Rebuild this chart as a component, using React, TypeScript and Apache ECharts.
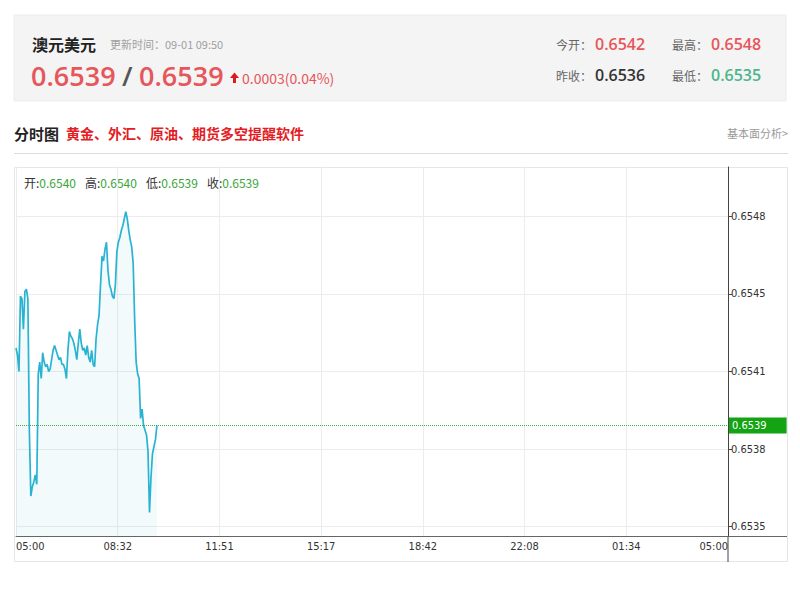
import React, { useEffect, useRef } from 'react';
import * as echarts from 'echarts';

// Quote header
const symbolName = '澳元美元';
const updateTime = '更新时间：09-01 09:50';
const bidPrice = '0.6539';
const askPrice = '0.6539';
const changeText = '0.0003(0.04%)';
const openToday = '0.6542';
const highToday = '0.6548';
const prevClose = '0.6536';
const lowToday = '0.6535';

// Intraday panel
const ohlcLabels = ['开:', '高:', '低:', '收:'];
const ohlcValues = ['0.6540', '0.6540', '0.6539', '0.6539'];
const timeLabels = ['05:00', '08:32', '11:51', '15:17', '18:42', '22:08', '01:34', '05:00'];
const priceTicks = [0.65347, 0.6538, 0.65413, 0.65446, 0.65479];
const lastPrice = 0.6539;
const stepMinutes = 3;
const dayMinutes = 1440;
const prices = [
  0.65423, 0.6542, 0.65413, 0.65445, 0.65444, 0.65431, 0.65447, 0.65448, 0.65444, 0.65388,
  0.6536, 0.65364, 0.65366, 0.65369, 0.65365, 0.65412, 0.65417, 0.6541, 0.65421, 0.65417,
  0.65415, 0.65416, 0.65413, 0.65414, 0.65418, 0.65422, 0.65424, 0.65422, 0.6542, 0.65418,
  0.65419, 0.65416, 0.65416, 0.65414, 0.6541, 0.65422, 0.6543, 0.65428, 0.65427, 0.65425,
  0.65422, 0.65418, 0.65425, 0.65431, 0.65425, 0.65422, 0.65423, 0.6542, 0.65424, 0.65419,
  0.65417, 0.65422, 0.65416, 0.65415, 0.65427, 0.65433, 0.65437, 0.6545, 0.65462, 0.6546,
  0.65465, 0.65468, 0.65456, 0.6545, 0.65448, 0.65445, 0.65444, 0.6545, 0.65464, 0.65468,
  0.6547, 0.65473, 0.65475, 0.65478, 0.65481, 0.65478, 0.65473, 0.65469, 0.65466, 0.65459,
  0.65435, 0.65417, 0.65412, 0.6541, 0.65393, 0.65397, 0.6539, 0.65388, 0.65386, 0.65379,
  0.65353, 0.65368, 0.65378, 0.65381, 0.65384, 0.6539,
];

const FONT = '"Noto Sans CJK SC", "Noto Sans", sans-serif';
const AXIS_FONT = '"DejaVu Sans Condensed", "Liberation Sans", sans-serif';
const RED = '#e6565b';
const GREEN_TXT = '#3aa53a';

const slot = dayMinutes / (timeLabels.length - 1);
const timeTickValues = timeLabels.map((_, i) => i * slot);

function txt(x: number, y: number, text: string, fill: string, font: string, align = 'left') {
  return {
    type: 'text',
    x,
    y,
    silent: true,
    style: { text, fill, font, textAlign: align, textVerticalAlign: 'middle' },
  };
}

function buildOption() {
  const ohlcRich = ohlcLabels
    .map((l, i) => `{l|${l}}{v|${ohlcValues[i]}}`)
    .join('{s| }');

  return {
    animation: false,
    grid: { left: 16, right: 72, top: 167, bottom: 53, containLabel: false },
    xAxis: {
      type: 'value',
      min: 0,
      max: dayMinutes,
      axisLine: { show: true, onZero: false, lineStyle: { color: '#666', width: 1 } },
      axisTick: { show: false, customValues: timeTickValues },
      splitLine: { show: true, lineStyle: { color: '#ececec', width: 1 } },
      axisLabel: {
        customValues: timeTickValues,
        formatter: (v: number) => timeLabels[Math.round(v / slot)],
        color: '#333',
        fontSize: 11,
        fontFamily: AXIS_FONT,
        margin: 5,
        alignMinLabel: 'left',
        alignMaxLabel: 'right',
      },
    },
    yAxis: {
      type: 'value',
      position: 'right',
      min: 0.65343,
      max: 0.655,
      axisLine: { show: true, onZero: false, lineStyle: { color: '#444', width: 1 } },
      axisTick: { show: true, length: 4, customValues: priceTicks, lineStyle: { color: '#444' } },
      splitLine: { show: true, lineStyle: { color: '#ececec', width: 1 } },
      axisLabel: {
        customValues: priceTicks,
        formatter: (v: number) => v.toFixed(4),
        color: '#333',
        fontSize: 11,
        fontFamily: AXIS_FONT,
        margin: 3,
      },
    },
    series: [
      {
        type: 'line',
        data: prices.map((p, i) => [i * stepMinutes, p]),
        showSymbol: false,
        symbol: 'none',
        clip: false,
        lineStyle: { color: '#29b3d3', width: 1.7 },
        areaStyle: { color: 'rgba(41,179,211,0.09)', origin: 'start' },
        silent: true,
        markLine: {
          silent: true,
          symbol: ['none', 'none'],
          lineStyle: { color: '#3fae3f', type: 'dotted', width: 1 },
          label: {
            show: true,
            position: 'end',
            formatter: lastPrice.toFixed(4),
            color: '#fff',
            backgroundColor: '#13a313',
            fontSize: 11,
            fontFamily: AXIS_FONT,
            padding: [3, 20, 2, 3],
            distance: 1,
          },
          data: [[{ coord: [0, lastPrice] }, { coord: [dayMinutes, lastPrice] }]],
        },
      },
    ],
    graphic: [
      // quote header
      { type: 'rect', silent: true, shape: { x: 14, y: 15, width: 772, height: 86 }, style: { fill: '#f4f4f4', stroke: '#ececec' } },
      txt(32, 44, symbolName, '#222', `bold 16px ${FONT}`),
      txt(110, 44, updateTime, '#a0a0a0', `11px ${FONT}`),
      txt(31, 75, bidPrice, RED, `600 27px "Open Sans", ${FONT}`),
      txt(122, 75, '/', '#555', `600 27px "Open Sans", ${FONT}`),
      txt(139, 75, askPrice, RED, `600 27px "Open Sans", ${FONT}`),
      {
        type: 'polygon',
        silent: true,
        shape: { points: [[234.5, 72.5], [230, 78], [233, 78], [233, 83], [236, 83], [236, 78], [239, 78]] },
        style: { fill: '#e0191f' },
      },
      txt(242, 78, changeText, RED, `14px ${FONT}`),
      txt(556, 44, '今开：', '#666', `12px ${FONT}`),
      txt(595, 44, openToday, RED, `600 16px "Open Sans", ${FONT}`),
      txt(672, 44, '最高：', '#666', `12px ${FONT}`),
      txt(711, 44, highToday, RED, `600 16px "Open Sans", ${FONT}`),
      txt(556, 75, '昨收：', '#666', `12px ${FONT}`),
      txt(595, 75, prevClose, '#333', `600 16px "Open Sans", ${FONT}`),
      txt(672, 75, '最低：', '#666', `12px ${FONT}`),
      txt(711, 75, lowToday, '#4cb58c', `600 16px "Open Sans", ${FONT}`),

      // section title
      txt(14, 133, '分时图', '#222', `bold 15px ${FONT}`),
      txt(66, 133, '黄金、外汇、原油、期货多空提醒软件', '#e31d24', `bold 14px ${FONT}`),
      txt(788, 133, '基本面分析>', '#999', `11px ${FONT}`, 'right'),
      { type: 'line', silent: true, shape: { x1: 14, y1: 153.5, x2: 788, y2: 153.5 }, style: { stroke: '#dcdcdc', lineWidth: 1 } },

      // chart frame
      { type: 'rect', silent: true, shape: { x: 14.5, y: 167.5, width: 773, height: 394 }, style: { fill: 'none', stroke: '#e6e6e6', lineWidth: 1 } },
      { type: 'line', silent: true, shape: { x1: 728, y1: 536, x2: 728, y2: 562 }, style: { stroke: '#444', lineWidth: 1 } },
      { type: 'line', silent: true, shape: { x1: 728, y1: 536.5, x2: 787, y2: 536.5 }, style: { stroke: '#666', lineWidth: 1 } },
      {
        type: 'text',
        silent: true,
        x: 24,
        y: 182,
        style: {
          text: ohlcRich,
          textVerticalAlign: 'middle',
          rich: {
            l: { fill: '#333', font: `12px ${FONT}` },
            v: { fill: GREEN_TXT, font: `12px ${FONT}` },
            s: { font: `12px ${FONT}`, width: 9 },
          },
        },
      },
    ],
  };
}

export default function App() {
  const ref = useRef<HTMLDivElement>(null);
  useEffect(() => {
    if (!ref.current) return;
    const chart = echarts.init(ref.current, null, { renderer: 'svg' });
    chart.setOption(buildOption() as any);
    return () => chart.dispose();
  }, []);
  return (
    <div
      ref={ref}
      style={{ position: 'fixed', left: 0, top: 0, width: 800, height: 589, background: '#fff' }}
    />
  );
}
